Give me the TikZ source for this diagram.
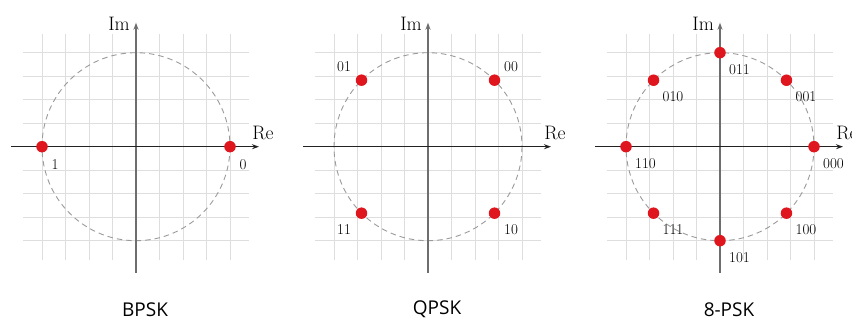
\documentclass[tikz,border=0pt]{standalone}
\usepackage{fontspec}
\newfontfamily\capfont{Open Sans}
\usetikzlibrary{arrows.meta}
\definecolor{dotred}{HTML}{E0161E}
\definecolor{gridgray}{HTML}{DEDEDE}
\definecolor{circgray}{HTML}{9A9A9A}
\definecolor{haxis}{HTML}{222222}
\definecolor{vaxis}{HTML}{6E6E6E}
\tikzset{
  gridline/.style={draw=gridgray, line width=0.9pt},
  unitcircle/.style={draw=circgray, line width=0.9pt, dash pattern=on 5.5pt off 4pt},
  axisline/.style={line width=1.4pt, -{Stealth[length=7pt,width=5pt]}},
  pt/.style={circle, fill=dotred, inner sep=0pt, minimum size=11.5pt},
  axlabel/.style={font=\fontsize{19.5}{21}\selectfont, inner sep=0pt, text=black},
  symlabel/.style={font=\fontsize{15}{16}\selectfont, inner sep=0pt, text=black},
  caption/.style={font=\capfont\fontsize{19}{21}\selectfont, inner sep=0pt, text=black}
}
\newcommand\pskbase[1]{%
  \foreach \k in {-4,...,4}{
    \draw[gridline] (-113,\k*23.5) -- (113,\k*23.5);
    \draw[gridline] (\k*23.5,-113) -- (\k*23.5,113);
  }
  \draw[unitcircle] (0,0) circle[radius=94];
  \coordinate (#1W) at (-125,0);
  \coordinate (#1E) at (123,0);
  \coordinate (#1S) at (0,126);
  \coordinate (#1N) at (0,-124);
  \draw[axisline, draw=vaxis, fill=vaxis] (#1S) -- (#1N);
  \draw[axisline, draw=haxis, fill=haxis] (#1W) -- (#1E);
  \node[axlabel, anchor=east] (#1im) at (-6,-123) {Im};
  \node[axlabel] (#1re) at (127,-13.5) {Re};
}
\begin{document}
\begin{tikzpicture}[x=1pt,y=-1pt]
\useasboundingbox (0,0) rectangle (852,320);
% BPSK
\begin{scope}[shift={(136,146.7)}]
  \pskbase{b}
  \node[pt] (b0) at (94,0) {};
  \node[pt] (b1) at (-94,0) {};
  \node[symlabel] (lb0) at (107,18) {0};
  \node[symlabel] (lb1) at (-81,18) {1};
  \node[caption] (cb) at (9,163) {BPSK};
\end{scope}
% QPSK
\begin{scope}[shift={(428,146.7)}]
  \pskbase{q}
  \node[pt] (q00) at (66.5,-66.5) {};
  \node[pt] (q01) at (-66.5,-66.5) {};
  \node[pt] (q11) at (-66.5,66.5) {};
  \node[pt] (q10) at (66.5,66.5) {};
  \node[symlabel] (lq00) at (83,-80) {00};
  \node[symlabel] (lq01) at (-84,-80) {01};
  \node[symlabel] (lq11) at (-84,82.5) {11};
  \node[symlabel] (lq10) at (83,82.5) {10};
  \node[caption] (cq) at (9,163) {QPSK};
\end{scope}
% 8-PSK
\begin{scope}[shift={(720,146.7)}]
  \pskbase{e}
  \foreach \a/\lab in {0/000,45/001,90/011,135/010,180/110,225/111,270/101,315/100}{
    \node[pt] (e\lab) at ({94*cos(\a)},{-94*sin(\a)}) {};
    \node[symlabel] (le\lab) at ([shift={(19.5,16.5)}]e\lab.center) {\lab};
  }
  \node[caption] (ce) at (9,163) {8-PSK};
\end{scope}
\end{tikzpicture}
\end{document}
